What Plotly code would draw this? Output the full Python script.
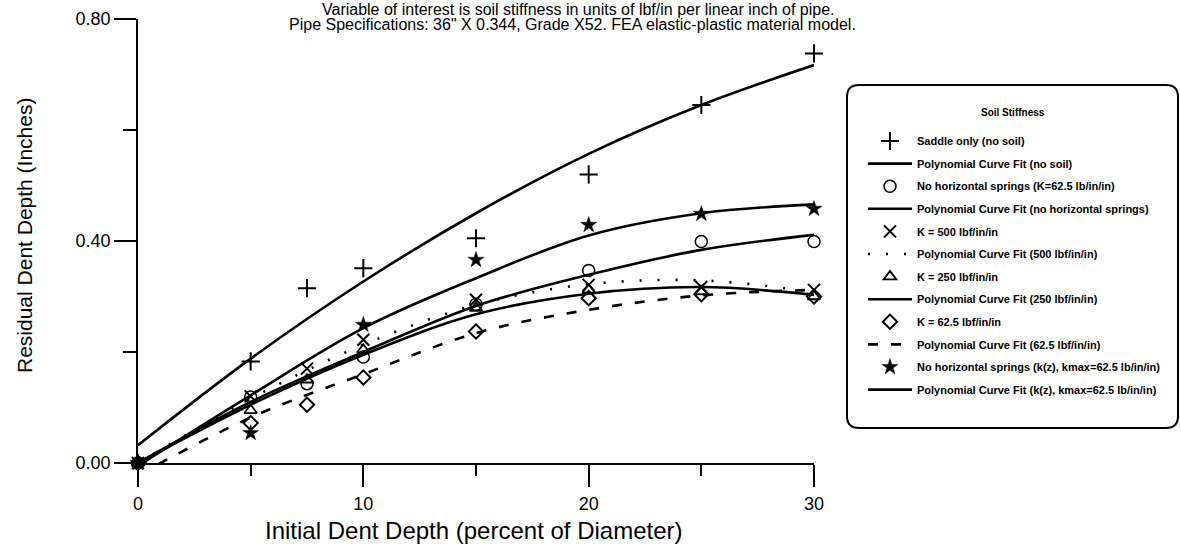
import plotly.graph_objects as go

# ---------------- data ----------------
x_pts = [0, 5, 7.5, 10, 15, 20, 25, 30]
saddle = [0, 0.183, 0.315, 0.351, 0.405, 0.520, 0.645, 0.738]
no_horiz = [0, 0.119, 0.143, 0.191, 0.286, 0.347, 0.399, 0.399]
k500 = [0, 0.120, 0.170, 0.222, 0.294, 0.321, 0.317, 0.312]
k250 = [0, 0.095, 0.150, 0.204, 0.279, 0.312, 0.309, 0.300]
k62 = [0, 0.072, 0.105, 0.154, 0.237, 0.297, 0.304, 0.300]
x_star = [0, 5, 10, 15, 20, 25, 30]
kz = [0, 0.054, 0.249, 0.366, 0.429, 0.449, 0.458]

# fitted curves, read at these x positions
x_fit = [0, 5, 10, 15, 20, 25, 30]
saddle_fit = [0.032, 0.188, 0.327, 0.450, 0.557, 0.645, 0.717]
no_horiz_fit = [0.0, 0.110, 0.200, 0.283, 0.339, 0.384, 0.411]
k500_fit = [0.0, 0.116, 0.213, 0.285, 0.322, 0.329, 0.308]
k250_fit = [0.0, 0.105, 0.195, 0.268, 0.305, 0.317, 0.303]
k62_fit = [-0.022, 0.082, 0.160, 0.234, 0.276, 0.302, 0.312]
kz_fit = [-0.005, 0.122, 0.243, 0.333, 0.410, 0.450, 0.466]

names = [
    "Saddle only (no soil)",
    "Polynomial Curve Fit (no soil)",
    "No horizontal springs (K=62.5 lb/in/in)",
    "Polynomial Curve Fit (no horizontal springs)",
    "K = 500 lbf/in/in",
    "Polynomial Curve Fit (500 lbf/in/in)",
    "K = 250 lbf/in/in",
    "Polynomial Curve Fit (250 lbf/in/in)",
    "K = 62.5 lbf/in/in",
    "Polynomial Curve Fit (62.5 lbf/in/in)",
    "No horizontal springs (k(z), kmax=62.5 lb/in/in)",
    "Polynomial Curve Fit (k(z), kmax=62.5 lb/in/in)",
]
title_lines = [
    "Variable of interest is soil stiffness in units of lbf/in per linear inch of pipe.",
    "Pipe Specifications: 36\" X 0.344, Grade X52. FEA elastic-plastic material model.",
]
x_title = "Initial Dent Depth (percent of Diameter)"
y_title = "Residual Dent Depth (Inches)"
legend_title = "Soil Stiffness"

# ---------------- layout geometry (window pixels) ----------------
W, H = 1181, 546
L, R, T, B = 138, 814, 19, 463
PW, PH = R - L, B - T


def px(xp):
    return (xp - L) / PW


def py(yp):
    return (B - yp) / PH


FONT = "Liberation Sans, Arial, sans-serif"
BLACK = "#000000"

fig = go.Figure()

series = [
    (x_pts, saddle, x_fit, saddle_fit, dict(symbol="cross-thin-open", size=13, line=dict(width=2, color=BLACK)), None),
    (x_pts, no_horiz, x_fit, no_horiz_fit, dict(symbol="circle-open", size=12, line=dict(width=1.5, color=BLACK)), None),
    (x_pts, k500, x_fit, k500_fit, dict(symbol="x-thin-open", size=12, line=dict(width=2, color=BLACK)), "2px,16px"),
    (x_pts, k250, x_fit, k250_fit, dict(symbol="triangle-up-open", size=11, line=dict(width=1.8, color=BLACK)), None),
    (x_pts, k62, x_fit, k62_fit, dict(symbol="diamond-open", size=11, line=dict(width=2, color=BLACK)), "10px,13px"),
    (x_star, kz, x_fit, kz_fit, dict(symbol="star", size=12, line=dict(width=0.5, color=BLACK)), None),
]

for i, (xs, ys, xf, yf, mk, dash) in enumerate(series):
    fig.add_trace(go.Scatter(
        x=xs, y=ys, mode="markers", name=names[2 * i],
        marker=dict(color=BLACK, **mk), cliponaxis=False,
        legendgroup=f"g{2*i}",
    ))
    fig.add_trace(go.Scatter(
        x=xf, y=yf, mode="lines", name=names[2 * i + 1],
        line=dict(color=BLACK, width=2.6, shape="spline", smoothing=1.0,
                  dash=dash if dash else "solid"),
        legendgroup=f"g{2*i+1}",
    ))

# rounded legend box
x0, x1 = px(847), px(1178)
y0, y1 = py(428), py(85)
rx, ry = 12 / PW, 12 / PH
path = (f"M{x0+rx},{y1} L{x1-rx},{y1} Q{x1},{y1} {x1},{y1-ry} "
        f"L{x1},{y0+ry} Q{x1},{y0} {x1-rx},{y0} L{x0+rx},{y0} "
        f"Q{x0},{y0} {x0},{y0+ry} L{x0},{y1-ry} Q{x0},{y1} {x0+rx},{y1} Z")
fig.add_shape(type="path", path=path, xref="paper", yref="paper",
              line=dict(color=BLACK, width=2), fillcolor="rgba(0,0,0,0)", layer="below")

# titles
fig.add_annotation(text=title_lines[0], xref="paper", yref="paper", x=px(578), y=py(9),
                   xanchor="center", yanchor="middle", showarrow=False,
                   font=dict(family=FONT, size=16, color=BLACK))
fig.add_annotation(text=title_lines[1], xref="paper", yref="paper", x=px(572), y=py(25),
                   xanchor="center", yanchor="middle", showarrow=False,
                   font=dict(family=FONT, size=16, color=BLACK))
fig.add_annotation(text=x_title, xref="paper", yref="paper", x=px(474), y=py(530),
                   xanchor="center", yanchor="middle", showarrow=False,
                   font=dict(family=FONT, size=24, color=BLACK))
fig.add_annotation(text=y_title, xref="paper", yref="paper", x=px(24), y=py(236),
                   xanchor="center", yanchor="middle", showarrow=False, textangle=-90,
                   font=dict(family=FONT, size=21, color=BLACK))
fig.add_annotation(text=legend_title, xref="paper", yref="paper", x=px(1013), y=py(113),
                   xanchor="center", yanchor="middle", showarrow=False,
                   font=dict(family=FONT, size=10, color=BLACK, weight="bold"))

axis_common = dict(
    showline=True, linecolor=BLACK, linewidth=1.5, showgrid=False, zeroline=False,
    ticks="outside", ticklen=22, tickwidth=1.5, tickcolor=BLACK,
    tickfont=dict(family=FONT, size=18, color=BLACK), layer="below traces",
)
fig.update_xaxes(range=[0, 30], tickmode="linear", tick0=0, dtick=10,
                 minor=dict(ticks="outside", ticklen=11, tickwidth=1.5, tickcolor=BLACK, dtick=5, tick0=0),
                 ticklabelstandoff=2, **axis_common)
fig.update_yaxes(range=[0, 0.8], tickmode="linear", tick0=0, dtick=0.4, tickformat=".2f",
                 minor=dict(ticks="outside", ticklen=13, tickwidth=1.5, tickcolor=BLACK, dtick=0.2, tick0=0),
                 **axis_common)

fig.update_layout(
    width=W, height=H,
    margin=dict(l=L, r=W - R, t=T, b=H - B, autoexpand=False),
    paper_bgcolor="white", plot_bgcolor="white",
    showlegend=True,
    legend=dict(
        x=px(863), y=py(126.5), xanchor="left", yanchor="top",
        bgcolor="rgba(0,0,0,0)", borderwidth=0,
        font=dict(family=FONT, size=11, color=BLACK, weight="bold"),
        traceorder="grouped", tracegroupgap=3.6, itemwidth=44,
    ),
)

# remove the default 8px page margin so the figure fills the window exactly
fig.write_html("out.html", config={"displayModeBar": False},
               post_script="document.body.style.margin='0px';")
